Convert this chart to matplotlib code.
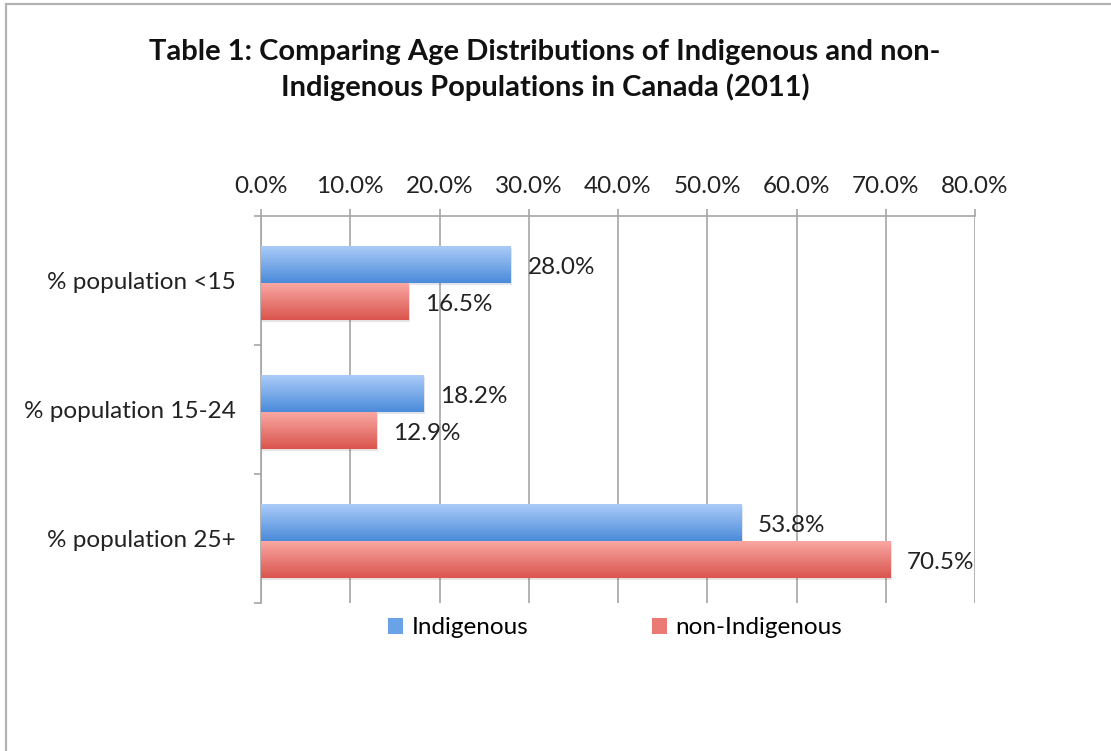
import numpy as np
import matplotlib
matplotlib.use("Agg")
import matplotlib.pyplot as plt
from matplotlib.colors import LinearSegmentedColormap
from matplotlib.patches import Rectangle, Patch
from matplotlib.ticker import FuncFormatter, FixedLocator
import matplotlib.patheffects as pe

plt.rcParams['font.family'] = ['Lato', 'DejaVu Sans']

# data
categories = ['% population <15', '% population 15-24', '% population 25+']
indigenous = [28.0, 18.2, 53.8]
non_indigenous = [16.5, 12.9, 70.5]
series_names = ['Indigenous', 'non-Indigenous']
title = 'Table 1: Comparing Age Distributions of Indigenous and non-\nIndigenous Populations in Canada (2011)'

blue_top, blue_bot = '#aacbf8', '#4b8bda'
red_top, red_bot = '#f9a7a3', '#da554d'
grid_col = '#a6a6a6'
fs = 17.5

fig = plt.figure(figsize=(11.11, 7.51), dpi=100)
ax = fig.add_axes([261/1111, 1 - 603/751, 714/1111, (603 - 216)/751])

# outer frame of the chart box
fig.add_artist(Rectangle((6/1111, -0.2), 1.2, 1.2 - 4/751, transform=fig.transFigure,
                         fill=False, edgecolor='#b3b3b3', linewidth=1.6))

y = np.arange(len(categories))
h = 0.285
shadow = [pe.SimplePatchShadow(offset=(1, -1.5), alpha=0.12), pe.Normal()]
b1 = ax.barh(y - h/2 + 0.02, indigenous, height=h, color=blue_bot, zorder=3, path_effects=shadow)
b2 = ax.barh(y + h/2 + 0.02, non_indigenous, height=h, color=red_bot, zorder=3, path_effects=shadow)

# gradient fill over every bar
grad = np.linspace(0, 1, 64).reshape(-1, 1)
for bars, c0, c1 in [(b1, blue_top, blue_bot), (b2, red_top, red_bot)]:
    cmap = LinearSegmentedColormap.from_list('g', [c0, c1])
    for p in bars:
        x0, y0 = p.get_x(), p.get_y()
        w, hh = p.get_width(), p.get_height()
        ax.imshow(grad, cmap=cmap, aspect='auto', origin='upper',
                  extent=(x0, x0 + w, y0 + hh, y0), zorder=4)

# value labels
for bars, vals in [(b1, indigenous), (b2, non_indigenous)]:
    for p, v in zip(bars, vals):
        ax.annotate(f'{v:.1f}%', (p.get_x() + p.get_width(), p.get_y() + p.get_height()/2),
                    xytext=(12, -2), textcoords='offset points', va='center', ha='left',
                    fontsize=fs, color='#222222', zorder=6)

ax.set_xlim(0, 80)
ax.set_ylim(2.5, -0.5)
ax.xaxis.set_major_locator(FixedLocator(np.arange(0, 81, 10)))
ax.xaxis.set_major_formatter(FuncFormatter(lambda v, p: f'{v:.1f}%'))
ax.xaxis.tick_top()
ax.tick_params(axis='x', which='major', direction='out', length=5, width=1.2,
               color=grid_col, labelsize=fs, pad=9, labelcolor='#222222')
ax.set_yticks(y)
ax.set_yticklabels(categories)
ax.set_yticks([-0.5, 0.5, 1.5, 2.5], minor=True)
ax.tick_params(axis='y', which='major', length=0, labelsize=fs, pad=18, labelcolor='#222222')
ax.tick_params(axis='y', which='minor', direction='out', length=5, width=1.2, color=grid_col)

ax.grid(axis='x', color=grid_col, linewidth=1.2, zorder=0)
ax.set_axisbelow(True)
for s in ['right', 'bottom']:
    ax.spines[s].set_visible(False)
for s in ['top', 'left']:
    ax.spines[s].set_color(grid_col)
    ax.spines[s].set_linewidth(1.2)

fig.text(545/1111, 1 - 70/751, title, ha='center', va='center', fontsize=21,
         fontweight='bold', linespacing=1.4, color='#111111')

handles = [Patch(facecolor='#6aa2e8', edgecolor='none'),
           Patch(facecolor='#ec7a74', edgecolor='none')]
fig.legend(handles, series_names, loc='center', bbox_to_anchor=(615/1111, 1 - 628/751),
           ncol=2, frameon=False, fontsize=fs, handlelength=0.6, handleheight=0.6,
           handletextpad=0.35, columnspacing=5.1)

fig.savefig('out.png', dpi=100)
